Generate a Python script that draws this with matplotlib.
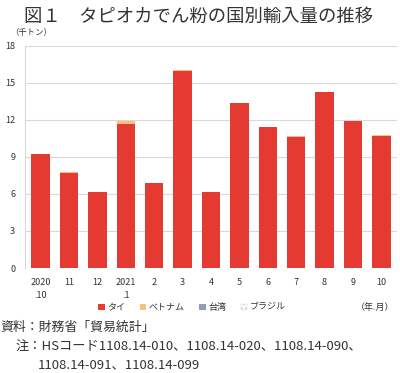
import matplotlib.pyplot as plt
from matplotlib.patches import Patch
import numpy as np

plt.rcParams['font.family'] = ['Noto Sans CJK JP', 'DejaVu Sans']

months = ['2020\n.10', '11', '12', '2021\n.1', '2', '3', '4', '5', '6', '7', '8', '9', '10']
thai = [9.22, 7.72, 6.19, 11.65, 6.87, 16.0, 6.19, 13.36, 11.43, 10.65, 14.27, 11.92, 10.7]
vietnam = [0.0, 0.09, 0.0, 0.27, 0.0, 0.08, 0.0, 0.0, 0.0, 0.05, 0.0, 0.0, 0.08]
taiwan = [0.0] * 13
brazil = [0.0] * 13

colors = ['#e53a32', '#f6c27f', '#8e9cc4', '#dfe8f0']

fig = plt.figure(figsize=(4.0, 3.73), dpi=100)
ax = fig.add_axes([0.0625, 0.2815, 0.93, 0.5955])

x = np.arange(len(months))
w = 0.65
bottom = np.zeros(len(months))
for vals, c in zip([thai, vietnam, taiwan, brazil], colors):
    v = np.array(vals)
    m = v > 0
    ax.bar(x[m], v[m], w, bottom=bottom[m], color=c, zorder=3, linewidth=0)
    bottom = bottom + v

ax.set_ylim(0, 18)
ax.set_xlim(-0.55, 12.55)
ax.set_yticks(range(0, 19, 3))
ax.set_xticks(x)
ax.set_xticklabels(months, fontsize=6.5, color='#333333', linespacing=1.6)
ax.tick_params(axis='y', labelsize=6.5, colors='#333333', length=0, pad=7)
ax.tick_params(axis='x', length=0, pad=7)
ax.grid(axis='y', color='#d9d9d9', linewidth=0.8, zorder=0)
for s in ['top', 'right', 'bottom']:
    ax.spines[s].set_visible(False)
ax.spines['left'].set_color('#d9d9d9')
ax.spines['left'].set_linewidth(0.8)

fig.text(0.025, 0.905, '（千トン）', fontsize=6, color='#333333')

fig.text(0.06, 0.955, '図１　タピオカでん粉の国別輸入量の推移', fontsize=13.2,
         color='#333333', va='center')

handles = [Patch(facecolor=colors[0], label='タイ'),
           Patch(facecolor=colors[1], label='ベトナム'),
           Patch(facecolor=colors[2], label='台湾'),
           Patch(facecolor='white', edgecolor='#c8d4e0', hatch='....', linewidth=0.3,
                 label='ブラジル')]
leg = fig.legend(handles=handles, loc='center', bbox_to_anchor=(0.48, 0.176),
                 ncol=4, frameon=False, fontsize=6.5, handlelength=0.7, handleheight=0.7,
                 handletextpad=0.3, columnspacing=1.6)
for t in leg.get_texts():
    t.set_color('#333333')
fig.text(0.89, 0.176, '（年.月）', fontsize=6.5, color='#333333', va='center')

fig.text(0.0, 0.123, '資料：財務省「貿易統計」', fontsize=9.3, color='#333333', va='center')
fig.text(0.04, 0.068, '注：HSコード1108.14-010、1108.14-020、1108.14-090、',
         fontsize=9.5, color='#333333', va='center')
fig.text(0.095, 0.022, '1108.14-091、1108.14-099', fontsize=9.5, color='#333333', va='center')

fig.savefig('out.png', dpi=100)
